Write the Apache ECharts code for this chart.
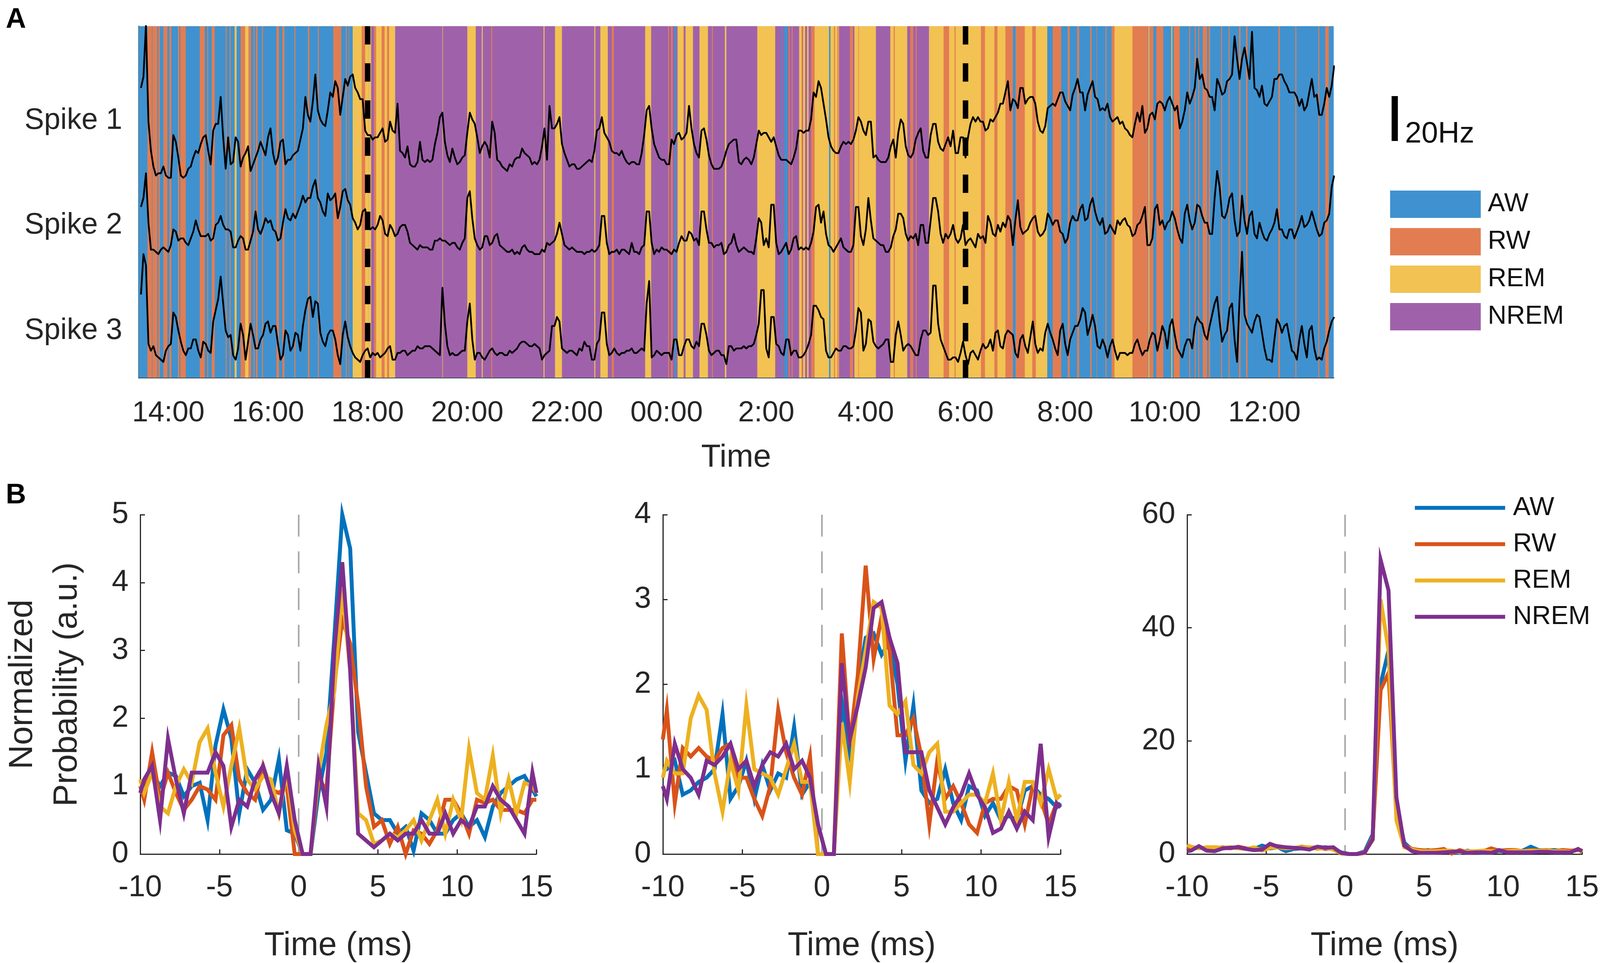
<!DOCTYPE html>
<html>
<head>
<meta charset="utf-8">
<style>html,body{margin:0;padding:0;background:#fff;overflow:hidden}#c{width:100vw;height:2466px}</style>
<script src="https://cdn.jsdelivr.net/npm/echarts@6/dist/echarts.min.js"></script>
</head>
<body>
<div id="c"></div>
<script>
const states = ['AW', 'RW', 'REM', 'NREM'];
const bandColors = {AW:'#3F92CF', RW:'#E27D52', REM:'#F2C252', NREM:'#9F62AA'};
const lineColors = {AW:'#0072BD', RW:'#D95319', REM:'#EDB120', NREM:'#7E2F8E'};

// clock hours, counted on past midnight (26 = 2:00 next day)
const stateBands = [
 [13.3,18.55,'AW'],[18.55,28.2,'NREM'],[28.2,29.27,'NREM'],[29.27,31.64,'REM'],[31.64,37.5,'AW'],
 [13.58,13.67,'RW'],[13.68,13.78,'RW'],[13.80,13.83,'RW'],[13.90,13.98,'RW'],[14.02,14.06,'RW'],[14.19,14.22,'RW'],[14.24,14.35,'RW'],
 [14.63,14.73,'RW'],[14.78,14.80,'RW'],[14.87,14.93,'RW'],[15.15,15.17,'RW'],[15.23,15.25,'RW'],[15.33,15.37,'REM'],[15.45,15.54,'RW'],
 [15.54,15.61,'REM'],[15.61,15.66,'RW'],[15.71,15.73,'RW'],[15.76,15.79,'RW'],[15.88,15.90,'RW'],[16.17,16.22,'RW'],[16.29,16.33,'RW'],
 [16.53,16.55,'RW'],[16.80,16.83,'RW'],[17.00,17.02,'RW'],[17.31,17.47,'RW'],[17.56,17.58,'RW'],[17.62,17.63,'RW'],[17.70,17.85,'REM'],
 [17.85,18.02,'REM'],[17.88,17.95,'RW'],[18.02,18.55,'REM'],[18.07,18.13,'NREM'],[18.13,18.17,'RW'],[18.28,18.34,'RW'],[18.39,18.43,'RW'],
 [19.50,19.51,'REM'],[20.0,20.17,'REM'],[20.29,20.31,'REM'],[20.48,20.50,'RW'],
 [21.53,21.55,'REM'],[21.76,21.90,'REM'],[22.55,22.57,'REM'],[22.67,22.82,'REM'],[22.90,22.94,'RW'],[23.57,23.69,'REM'],[24.03,24.05,'RW'],
 [24.09,24.12,'RW'],[24.16,24.20,'AW'],[24.22,24.34,'REM'],[24.34,24.35,'RW'],[24.38,24.53,'REM'],[24.66,24.83,'REM'],[24.91,24.93,'RW'],
 [25.17,25.20,'REM'],[25.82,26.18,'REM'],[26.30,26.32,'AW'],[26.36,26.43,'AW'],[26.45,26.47,'RW'],[26.51,26.53,'RW'],[26.66,26.71,'REM'],
 [26.71,26.73,'RW'],[26.74,26.78,'REM'],[26.82,26.85,'REM'],[26.90,26.97,'RW'],[26.97,27.46,'REM'],[27.26,27.29,'AW'],[27.36,27.38,'RW'],
 [27.43,27.45,'RW'],[27.68,27.74,'RW'],[27.77,28.2,'REM'],[27.85,27.86,'RW'],
 [28.49,28.83,'REM'],[28.56,28.58,'RW'],[28.89,28.95,'RW'],[29.0,29.02,'RW'],[29.27,29.30,'REM'],[29.56,29.67,'RW'],[29.78,29.80,'RW'],
 [30.31,30.39,'RW'],[30.58,30.64,'RW'],[30.80,30.95,'RW'],[30.95,31.01,'AW'],[31.01,31.19,'RW'],[31.34,31.41,'RW'],
 [31.75,31.92,'RW'],[32.05,32.09,'RW'],[32.24,32.28,'RW'],[32.50,32.53,'RW'],[32.63,32.64,'RW'],[32.81,32.83,'RW'],[32.93,32.99,'RW'],
 [32.99,33.35,'REM'],[33.35,33.66,'RW'],[33.67,33.69,'REM'],[33.69,33.77,'RW'],[33.83,33.97,'RW'],[34.13,34.15,'REM'],[34.18,34.30,'RW'],
 [34.49,34.51,'RW'],[34.60,34.62,'RW'],[34.67,34.69,'RW'],[34.76,34.85,'RW'],[34.88,34.91,'RW'],[35.13,35.15,'RW'],[35.28,35.30,'RW'],
 [35.49,35.52,'RW'],[35.63,35.66,'RW'],[36.28,36.31,'RW'],[36.62,36.64,'RW'],[37.08,37.10,'RW'],[37.22,37.29,'RW']
];

const traceStartHour = 13.45;
const traceStepHours = 0.05;
// firing rates in Hz: the samples on the tenth-hour grid ...
const spike1Rate = [
 40,68,12,1,2,1,0,16,1,1,5,12,15,19,6,24,36,4,6,18,5,11,3,9,16,10,22,6,16,6,8,11,17,36,25,46,26,23,38,43,
 28,44,45,40,35,21,19,18,20,16,25,20,12,9,6,5,16,7,7,15,27,16,7,9,7,10,29,24,11,16,9,20,7,4,6,
 8,9,11,9,7,8,22,32,22,27,11,5,6,4,6,8,12,22,20,16,11,10,9,6,7,6,19,32,15,9,8,6,15,20,18,32,15,9,22,10,
 4,4,8,15,17,7,8,8,9,21,20,18,18,10,8,7,9,21,20,21,38,43,33,18,12,11,16,16,17,27,21,25,9,
 8,7,9,17,20,24,10,11,20,12,9,24,16,12,18,21,11,18,18,27,27,25,22,25,29,33,43,35,31,40,35,36,25,20,31,33,
 35,38,32,37,44,38,37,43,35,31,33,25,27,25,21,18,29,32,22,29,33,33,34,33,32,25,38,36,53,46,39,36,44,37,
 43,46,53,53,51,65,39,41,32,36,44,46,41,38,36,35,32,44,37,28,40,41
];
const spike2Rate = [
 21,36,2,1,2,2,4,10,7,5,7,15,8,8,6,13,17,11,10,3,8,2,6,19,9,16,15,10,7,20,15,16,22,23,25,33,23,17,24,27,
 21,29,22,14,13,20,11,11,17,9,13,8,12,13,5,3,4,3,2,6,7,6,4,5,2,7,28,7,2,8,4,8,4,2,1,
 0,0,4,1,0,0,1,4,6,14,4,2,2,1,0,1,1,4,17,0,1,0,2,0,1,0,4,19,0,1,2,1,2,5,6,10,6,4,19,5,
 3,4,0,4,9,1,3,1,0,16,4,3,22,0,3,0,7,2,2,2,10,22,19,4,1,5,3,1,4,21,4,25,7,
 5,4,1,8,18,16,6,7,4,13,5,25,19,5,7,13,5,13,6,5,9,8,17,9,13,14,17,4,24,9,11,16,10,9,18,13,
 15,9,7,17,15,22,16,25,15,16,10,11,15,15,13,8,13,17,4,7,22,15,14,19,11,5,22,11,22,17,14,9,37,17,
 19,27,8,26,9,19,7,10,6,11,20,11,7,11,10,17,13,19,11,9,15,30
];
const spike3Rate = [
 32,45,7,5,3,7,10,22,11,5,8,12,4,10,6,25,40,16,14,3,19,3,19,8,12,19,15,18,3,16,7,15,7,25,31,29,15,9,16,12,
 1,20,9,4,2,7,4,5,4,6,9,3,6,7,6,7,8,9,9,7,5,19,5,5,6,7,28,3,6,3,7,6,6,5,7,
 7,10,11,9,10,8,5,7,18,20,7,7,6,8,11,9,3,12,24,5,8,5,6,7,6,7,7,38,5,6,6,6,12,5,9,12,8,9,19,7,
 6,7,5,9,7,8,9,9,10,19,34,4,22,9,5,12,7,4,5,10,27,25,21,4,6,7,9,8,9,26,7,21,11,
 8,10,12,2,20,7,10,7,5,16,14,36,19,9,3,4,2,11,1,7,3,10,9,7,16,8,16,14,4,14,6,20,6,7,19,12,
 5,19,5,15,18,26,14,23,9,12,4,12,3,6,5,6,12,5,7,15,7,18,8,21,8,4,12,8,22,19,12,23,31,11,
 16,28,2,51,19,15,23,15,3,2,21,15,19,7,3,18,4,18,3,3,11,20
];
// ... and the samples read half a step later
const spike1RateMid = [
 45,25,5,2,5,0,19,9,0,4,9,11,18,12,21,24,18,18,7,16,9,14,6,12,13,18,11,9,17,8,10,12,22,28,34,30,24,30,36,40,
 36,41,46,38,35,19,17,18,22,17,21,33,11,14,5,7,8,8,8,20,29,10,13,6,9,20,26,18,14,14,25,8,5,3,5,
 9,13,10,6,6,14,8,22,24,15,8,6,4,5,7,7,21,27,18,12,11,12,7,7,6,11,30,22,12,8,6,17,19,17,20,22,11,21,17,6,
 4,5,12,16,17,6,9,6,15,19,20,16,14,8,8,6,13,21,21,26,36,40,26,14,11,14,15,15,21,25,19,25,10,
 7,7,14,9,26,14,9,17,22,9,19,24,13,15,14,11,18,9,24,25,25,21,26,27,33,38,30,34,40,33,36,33,21,23,32,32,
 38,34,30,40,38,30,40,36,30,30,27,26,24,22,19,24,25,20,28,26,34,30,36,30,22,30,33,40,44,40,36,30,41,38,
 44,63,44,58,44,40,36,33,34,44,46,43,38,38,32,30,38,36,28,33,36,50
];
const spike2RateMid = [
 25,14,2,0,3,1,11,6,7,4,10,11,8,9,7,14,13,11,3,6,7,2,10,11,12,14,11,6,14,16,18,19,26,25,30,25,19,27,25,16,
 28,24,16,11,19,13,12,13,15,8,11,9,13,10,4,2,3,3,2,6,6,5,5,3,5,25,16,4,3,8,5,9,3,1,2,
 1,3,2,1,0,2,5,5,9,9,3,3,1,1,1,2,2,17,5,1,2,2,1,5,1,3,19,5,2,3,2,0,1,8,6,9,7,19,11,5,
 4,5,1,5,4,2,2,1,7,14,7,22,5,1,5,2,8,3,3,5,21,14,9,3,3,7,2,1,21,8,11,15,6,
 4,1,3,11,18,9,8,9,13,5,15,25,9,9,9,7,7,4,7,3,7,5,14,8,10,12,15,15,12,10,14,17,8,11,16,15,
 10,5,14,15,20,15,22,19,13,9,13,9,13,16,12,9,14,21,4,20,13,11,15,16,7,18,15,14,21,14,9,25,30,16,
 25,15,10,15,17,9,14,7,9,14,11,8,11,7,13,12,15,15,8,14,18,35
];
const spike3RateMid = [
 50,10,9,4,2,9,24,16,7,8,12,7,11,7,20,30,28,13,5,8,14,11,14,8,14,20,18,10,5,14,9,14,18,30,22,28,11,14,16,5,
 14,13,6,3,5,8,6,6,5,8,3,6,7,5,7,9,8,9,8,6,35,9,6,5,7,20,12,6,4,5,8,5,6,5,6,
 8,11,10,9,9,3,6,18,22,8,6,7,5,7,9,3,10,24,10,6,6,6,7,8,6,8,28,4,7,5,6,3,12,5,12,9,11,19,14,5,
 7,5,1,9,8,8,8,9,14,34,8,22,10,6,12,5,7,4,7,14,27,22,7,4,8,7,9,8,16,24,10,20,9,
 9,12,2,14,14,9,9,5,12,16,15,36,12,6,3,4,6,5,6,5,7,8,12,15,9,14,15,6,12,9,13,10,8,15,15,8,
 16,10,12,18,21,24,18,18,8,9,9,7,6,6,6,10,8,7,12,14,12,15,18,14,6,9,12,18,20,14,18,28,20,14,
 26,12,30,23,17,20,22,8,3,12,19,18,13,6,12,10,16,8,4,8,16,22
];
const traceFloors = [89, 55, 5];         // Hz height of each trace's zero on the stacked axis
const spikeNames = ['Spike 1', 'Spike 2', 'Spike 3'];
const spikeTickValues = [114.4, 67.7, 20.9];
const clockTicks = [14,16,18,20,22,24,26,28,30,32,34,36];
const clockLabels = ['14:00','16:00','18:00','20:00','22:00','00:00','2:00','4:00','6:00','8:00','10:00','12:00'];
const markerHours = [18, 30];

// lag in ms of each sample in panels B
const lagMs = [-10,-9.75,-9.25,-8.75,-8.25,-7.75,-7.25,-6.75,-6.25,-5.75,-5.25,-4.75,-4.25,-3.75,-3.25,-2.75,-2.25,-1.75,-1.25,-0.75,-0.25,
 0.25,0.75,1.25,1.75,2.25,2.75,3.25,3.75,4.25,4.75,5.25,5.75,6.25,6.75,7.25,7.75,8.25,8.75,9.25,9.75,10.25,10.75,11.25,11.75,12.25,12.75,13.25,13.75,14.25,14.75,15];

const p1AW = [1,1,1.2,1,1.2,1.15,.85,1,1.05,.5,1.6,2.13,1.7,.6,1.25,1.05,.65,.8,1.4,.35,.3,0,0,.9,1.5,3.2,5,4.5,1.8,1.2,.6,.5,.5,.3,.4,.05,.6,.5,.3,.3,.5,.6,.4,.5,.25,.7,.9,1,1.1,1.15,.95,.85];
const p1RW = [1,.8,1.5,.8,1.2,.9,.65,.8,1,.95,.8,1.75,1.9,1.1,.9,.8,1.3,.95,.9,1,0,0,0,1.1,.95,2.5,3.45,3.1,2.2,1,.4,.5,.15,.4,0,.35,.3,.15,.35,.8,.8,.6,.3,.8,.75,.8,.65,.65,.65,.6,.8,.8];
const p1REM = [1.1,.9,1.2,.7,.6,1,1.25,1.05,1.65,1.85,1.2,.7,1.3,1.85,1.1,.95,1.15,1.1,.6,1.2,.35,0,0,1.2,1.9,2.4,3.9,2.7,.6,.5,.15,.2,.3,.25,.35,.5,.2,.5,.8,.3,.8,.5,1.55,.9,.8,1.45,.6,1.1,.6,1.05,1,.9];
const p1NREM = [.9,1.1,1.3,.5,1.7,1.1,.6,1.2,1.2,1.2,1.5,1.3,.4,.8,.7,1.1,1.3,.9,.6,1.3,.5,0,0,1.3,.7,3,4.3,2.7,.3,.2,.1,.2,.3,.2,.3,.3,.5,.3,.3,.6,.3,.5,.4,.7,.7,1,.8,.7,.5,.3,1.2,.9];

const p2AW = [1,1,1.1,.7,.75,.85,.9,1,1.65,.65,.8,1.1,.65,1.05,.75,.95,.9,1.5,.7,.85,.35,0,0,1.8,1.2,2,2.55,2.6,2.35,2.5,2,1.1,1.75,.75,.6,.65,1,.6,.4,.8,.75,.45,.6,.4,.45,.4,.75,.8,.7,.65,.55,.6];
const p2RW = [1.35,1.7,.6,1.25,1.15,1.25,1.15,1.1,1.25,1.3,.9,.9,.65,.45,.8,1.7,1.2,.9,.7,1.15,0,0,0,2.6,1.3,2.1,3.4,2.3,2.8,2.4,1.4,1.4,1.6,1.15,.35,1.1,.65,.8,.6,.35,.25,.6,.65,.65,.8,.75,.35,.8,.65,.35,.6,.55];
const p2REM = [.9,1.1,.95,.95,1.6,1.87,1.7,.95,.5,1.1,.75,1.75,1,.95,.9,.7,1,1.3,.85,.85,0,0,0,1.55,.85,1.85,2.4,2.97,2.9,1.75,1.65,1.8,1.05,.95,1.2,1.3,.5,.5,.6,.7,.7,.6,.95,.4,.85,.4,.85,.85,.6,1,.65,.7];
const p2NREM = [.8,.65,1.3,1,.9,.7,1.1,1.05,1.15,1.3,1,1.1,.8,1.05,1.2,1.15,1.3,1,1.1,.9,.35,0,0,2.25,1.35,1.75,2.2,2.9,2.97,2.55,2.25,1.2,1.2,1.2,.75,.55,.35,.55,.7,.95,.7,.55,.25,.3,.5,.3,.5,.4,1.3,.2,.6,.55];

const p3AW = [.8,1,1.2,.8,.8,1,1.1,1.2,1,.9,1.5,1,1.2,.5,.9,1,1.1,1,1.2,1,.3,0,0,.5,3.5,30,36,8,2,.7,.5,.7,.4,.6,.3,.2,.6,.3,.2,.3,.5,.4,.4,.6,1.3,.7,.6,.7,.5,.4,.8,.5];
const p3RW = [.6,1,1.1,.9,.9,1.2,1,1.3,1,.8,.9,1.6,1.4,1.2,1,1.3,1.1,1.2,.9,1,.2,0,0,.2,3,29,32,7,1.5,.9,.7,.6,.7,.9,.1,.7,.3,.4,.5,1,.6,.7,.7,.5,.7,.6,.7,.5,.7,.6,.7,.6];
const p3REM = [1.6,1.3,1,1.2,1.2,1.1,1.2,1,.9,1.2,.6,1.1,1.2,1,1.1,1.2,1.2,.9,1.1,.8,.1,0,0,.4,2.5,45,36,6,1.2,.8,.5,.5,.5,.6,.6,.3,.5,.5,.6,.5,.6,.5,.6,.5,.6,.6,.6,.5,.5,.4,.9,.3];
const p3NREM = [.5,.6,1.4,.6,.5,1,1.1,1.2,.9,.7,.8,1.8,1.3,1.2,1.1,1,.8,1.3,1.1,1.2,.2,0,0,.3,2.6,52,46.6,10,1.5,.5,.2,.2,.2,.3,.4,.5,.2,.3,.3,.2,.7,.3,.3,.3,.3,.4,.4,.3,.3,.3,.9,.5];

const panelRates = [[p1AW,p1RW,p1REM,p1NREM],[p2AW,p2RW,p2REM,p2NREM],[p3AW,p3RW,p3REM,p3NREM]];
const panelYMax = [5, 4, 60];
const panelYStep = [1, 1, 20];
const panelLeft = [366, 1740, 3116];
const panelWidth = [1042, 1044, 1042];

const FONT = '"Liberation Sans", Arial, sans-serif';
const INK = '#262626';
// the layout was measured on a 4200 px wide picture; fit it to the page's real width
const pageWidth = Math.min(window.innerWidth || 4200, 4200);
const sx = pageWidth / 4200;
const fs = s => s * (0.5 + 0.5 * sx);

const grid = [{left:364*sx, top:67, width:3137*sx, height:900}];
const xAxis = [{
  gridIndex:0, type:'value', min:13.404, max:37.39,
  name:'Time', nameLocation:'middle', nameGap:164,
  nameTextStyle:{fontFamily:FONT, fontSize:fs(83), color:INK},
  axisLine:{show:true, onZero:false, lineStyle:{color:'#3a4a58', width:3}},
  axisTick:{show:true, inside:true, length:32, customValues:clockTicks, lineStyle:{color:'rgba(40,40,40,.45)', width:3}},
  axisLabel:{show:true, margin:55, fontFamily:FONT, fontSize:fs(75), color:INK, hideOverlap:false, customValues:clockTicks,
    formatter:v=>clockLabels[clockTicks.indexOf(v)]},
  splitLine:{show:false}
}];
const yAxis = [{
  gridIndex:0, type:'value', min:0, max:156.5,
  axisLine:{show:true, onZero:false, lineStyle:{color:'#3a4a58', width:3}},
  axisTick:{show:true, inside:true, length:30, customValues:spikeTickValues, lineStyle:{color:'rgba(40,40,40,.4)', width:3}},
  axisLabel:{show:true, margin:42, fontFamily:FONT, fontSize:fs(76), color:INK, customValues:spikeTickValues,
    formatter:v=>spikeNames[spikeTickValues.indexOf(v)]},
  splitLine:{show:false}
}];

const series = [{
  type:'custom', name:'Sleep state', xAxisIndex:0, yAxisIndex:0, silent:true, clip:true,
  data: stateBands.map(b=>[b[0],b[1],states.indexOf(b[2])]),
  encode:{x:[0,1]},
  renderItem:(params,api)=>{
    const a = api.coord([api.value(0),156.5]);
    const b = api.coord([api.value(1),0]);
    const rect = echarts.graphic.clipRectByRect(
      {x:a[0], y:a[1], width:b[0]-a[0], height:b[1]-a[1]},
      {x:params.coordSys.x, y:params.coordSys.y, width:params.coordSys.width, height:params.coordSys.height});
    return rect && {type:'rect', shape:rect, style:{fill:bandColors[states[api.value(2)]]}};
  }
}];
[[spike1Rate,spike1RateMid],[spike2Rate,spike2RateMid],[spike3Rate,spike3RateMid]].forEach((pair,k)=>{
  const data = [];
  pair[0].forEach((r,i)=>{
    data.push([traceStartHour+traceStepHours*2*i, r+traceFloors[k]]);
    if (i < pair[1].length) data.push([traceStartHour+traceStepHours*(2*i+1), pair[1][i]+traceFloors[k]]);
  });
  series.push({type:'line', name:spikeNames[k], xAxisIndex:0, yAxisIndex:0, showSymbol:false, silent:true,
    z:5, lineStyle:{color:'#000', width:4.5, join:'round'}, itemStyle:{color:'#000'}, data});
});
markerHours.forEach(h=>{
  series.push({type:'line', name:'marker '+h, xAxisIndex:0, yAxisIndex:0, showSymbol:false, silent:true, z:6,
    lineStyle:{color:'#000', width:14, type:[47,48], cap:'butt'}, itemStyle:{color:'#000'},
    data:[[h,156.5],[h,0]]});
});

panelRates.forEach((rows,p)=>{
  const g = p+1;
  grid.push({left:panelLeft[p]*sx, top:1318, width:panelWidth[p]*sx, height:895});
  xAxis.push({gridIndex:g, type:'value', min:-10, max:15, interval:5,
    name:'Time (ms)', nameLocation:'middle', nameGap:193,
    nameTextStyle:{fontFamily:FONT, fontSize:fs(86), color:INK},
    axisLine:{show:true, onZero:false, lineStyle:{color:INK, width:3}},
    axisTick:{show:true, inside:true, length:12, lineStyle:{color:INK, width:3}},
    axisLabel:{margin:48, fontFamily:FONT, fontSize:fs(78), color:INK, showMinLabel:true, showMaxLabel:true},
    splitLine:{show:false}});
  yAxis.push(Object.assign({gridIndex:g, type:'value', min:0, max:panelYMax[p], interval:panelYStep[p],
    axisLine:{show:true, onZero:false, lineStyle:{color:INK, width:3}},
    axisTick:{show:true, inside:true, length:12, lineStyle:{color:INK, width:3}},
    axisLabel:{margin:30, fontFamily:FONT, fontSize:fs(78), color:INK},
    splitLine:{show:false}},
    p===0 ? {name:'Normalized\nProbability (a.u.)', nameLocation:'middle', nameGap:130, nameRotate:90,
      nameTextStyle:{fontFamily:FONT, fontSize:fs(87), color:INK, lineHeight:114}} : {}));
  series.push({type:'line', name:'onset '+p, xAxisIndex:g, yAxisIndex:g, showSymbol:false, silent:true, z:1,
    lineStyle:{color:'#a6a6a6', width:4, type:[56,38], cap:'butt'}, itemStyle:{color:'#a6a6a6'},
    data:[[0,panelYMax[p]],[0,0]]});
  rows.forEach((vals,s)=>{
    const st = states[s];
    series.push({type:'line', name:st, xAxisIndex:g, yAxisIndex:g, showSymbol:false, silent:true, z:2+s, clip:false,
      lineStyle:{color:lineColors[st], width:10, join:'miter'}, itemStyle:{color:lineColors[st]},
      data:vals.map((v,i)=>[lagMs[i],v])});
  });
});

const option = {
  animation:false, backgroundColor:'#fff',
  textStyle:{fontFamily:FONT},
  grid, xAxis, yAxis, series,
  title:[
    {text:'A', left:10*sx, top:10, textStyle:{fontFamily:FONT, fontSize:72, fontWeight:'bold', color:'#000'}},
    {text:'B', left:10*sx, top:1228, textStyle:{fontFamily:FONT, fontSize:72, fontWeight:'bold', color:'#000'}},
    {text:'20Hz', left:3683*sx, top:301, textStyle:{fontFamily:FONT, fontSize:fs(77), fontWeight:'normal', color:'#111'}}
  ],
  legend:[
    {orient:'vertical', left:3649*sx, top:488, itemWidth:238*sx, itemHeight:70, itemGap:26, selectedMode:false, padding:0,
     textStyle:{fontFamily:FONT, fontSize:fs(67), color:'#111', padding:[0,0,0,13]},
     data:states.map(s=>({name:s, icon:'rect', itemStyle:{color:bandColors[s], borderWidth:0}, lineStyle:{width:0}}))},
    {orient:'vertical', left:3714*sx, top:1267, itemWidth:237*sx, itemHeight:10, itemGap:26, selectedMode:false, padding:0,
     textStyle:{fontFamily:FONT, fontSize:fs(68), color:'#111', padding:[0,0,0,15]},
     data:states.map(s=>({name:s, icon:'rect', itemStyle:{color:lineColors[s], borderWidth:0}, lineStyle:{width:0}}))}
  ],
  graphic:[{type:'rect', left:3653*sx, top:246, shape:{width:16, height:115}, style:{fill:'#000'}}]
};
const chart = echarts.init(document.getElementById('c'), null, {renderer:'canvas', width:pageWidth, height:2466, devicePixelRatio:1});
chart.setOption(option);
</script>
</body>
</html>
